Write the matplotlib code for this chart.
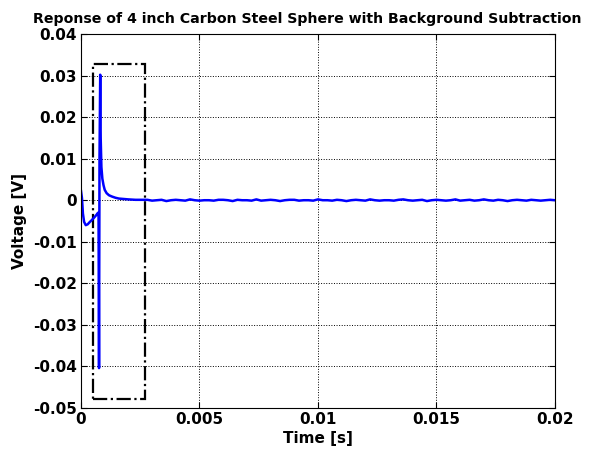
import numpy as np
import matplotlib
matplotlib.use("Agg")
from matplotlib import pyplot as plt
from matplotlib.patches import Rectangle

# response around the hit (time in s, voltage in V)
t_head = [0.0, 0.00004, 0.00008, 0.00013, 0.0002, 0.00028, 0.00036, 0.00045,
          0.00055, 0.00064, 0.00072, 0.00074, 0.00076, 0.00078, 0.00081,
          0.00083, 0.00086, 0.0009, 0.00095, 0.001, 0.00108, 0.00118,
          0.0013, 0.00145, 0.0016, 0.0018, 0.002, 0.0023, 0.0026]
v_head = [0.0022, 0.0005, -0.0032, -0.0052, -0.0060, -0.0058, -0.0053, -0.0048,
          -0.0042, -0.0036, -0.0030, -0.0040, -0.0404, 0.0100, 0.0302,
          0.0150, 0.0080, 0.0052, 0.0036, 0.0025, 0.0017, 0.0012,
          0.0009, 0.0006, 0.0004, 0.0003, 0.0002, 0.0001, 0.0001]

# settled tail, sampled every 0.0002 s
t_tail = [round(0.0028 + 0.0002 * i, 5) for i in range(87)]
v_tail = [0.0001, -0.0001, 0.0, 0.0001, -0.0002, 0.0, 0.0001, 0.0, -0.0001,
          0.0002, 0.0, -0.0001, 0.0, 0.0, -0.0001, 0.0001, 0.0001, 0.0,
          -0.0002, 0.0001, 0.0, 0.0, -0.0001, 0.0002, -0.0001, 0.0, 0.0001,
          0.0, -0.0002, 0.0, 0.0001, 0.0001, -0.0001, 0.0, 0.0, -0.0001,
          0.0002, 0.0, 0.0, -0.0001, 0.0001, 0.0, -0.0002, 0.0, 0.0001,
          0.0, -0.0001, 0.0002, 0.0, -0.0001, 0.0, 0.0, -0.0001, 0.0001,
          0.0002, 0.0, -0.0001, 0.0, 0.0001, -0.0002, 0.0, 0.0001, 0.0,
          -0.0001, 0.0, 0.0002, -0.0001, 0.0, 0.0001, -0.0001, 0.0, 0.0002,
          0.0, -0.0001, 0.0001, 0.0, -0.0002, 0.0, 0.0001, 0.0, -0.0001,
          0.0001, 0.0, -0.0001, 0.0, 0.0001, 0.0]

# zoom box drawn around the spike: (t0, t1, v0, v1)
box = [0.0005, 0.0027, -0.0478, 0.0329]

xticks = [0, 0.005, 0.01, 0.015, 0.02]
yticks = [-0.05, -0.04, -0.03, -0.02, -0.01, 0, 0.01, 0.02, 0.03, 0.04]

plt.rcParams["font.family"] = ["DejaVu Sans"]
plt.rcParams["font.weight"] = "bold"

t = np.array(t_head + t_tail)
v = np.array(v_head + v_tail)

fig = plt.figure(figsize=(6.06, 4.57), dpi=100)
ax = fig.add_axes([0.1337, 0.1072, 0.782, 0.8184])

ax.plot(t, v, color="#0000ff", linewidth=1.8)

rect = Rectangle((box[0], box[2]), box[1] - box[0], box[3] - box[2],
                 fill=False, edgecolor="black", linestyle="-.", linewidth=1.6)
ax.add_patch(rect)

ax.set_xlim(0, 0.02)
ax.set_ylim(-0.05, 0.04)
ax.set_xticks(xticks)
ax.set_xticklabels(["0", "0.005", "0.01", "0.015", "0.02"])
ax.set_yticks(yticks)
ax.set_yticklabels(["-0.05", "-0.04", "-0.03", "-0.02", "-0.01", "0",
                    "0.01", "0.02", "0.03", "0.04"])
ax.grid(True, color="black", linestyle=":", linewidth=0.7)
ax.tick_params(direction="in", top=True, right=True, labelsize=11, length=4,
               pad=3)
for s in ax.spines.values():
    s.set_linewidth(0.8)

ax.set_title("Reponse of 4 inch Carbon Steel Sphere with Background Subtraction",
             fontsize=10.2, fontweight="bold", pad=8, x=0.477)
ax.set_xlabel("Time [s]", fontsize=11, fontweight="bold", labelpad=3)
ax.set_ylabel("Voltage [V]", fontsize=11, fontweight="bold", labelpad=4)

fig.savefig("out.png", dpi=100)
